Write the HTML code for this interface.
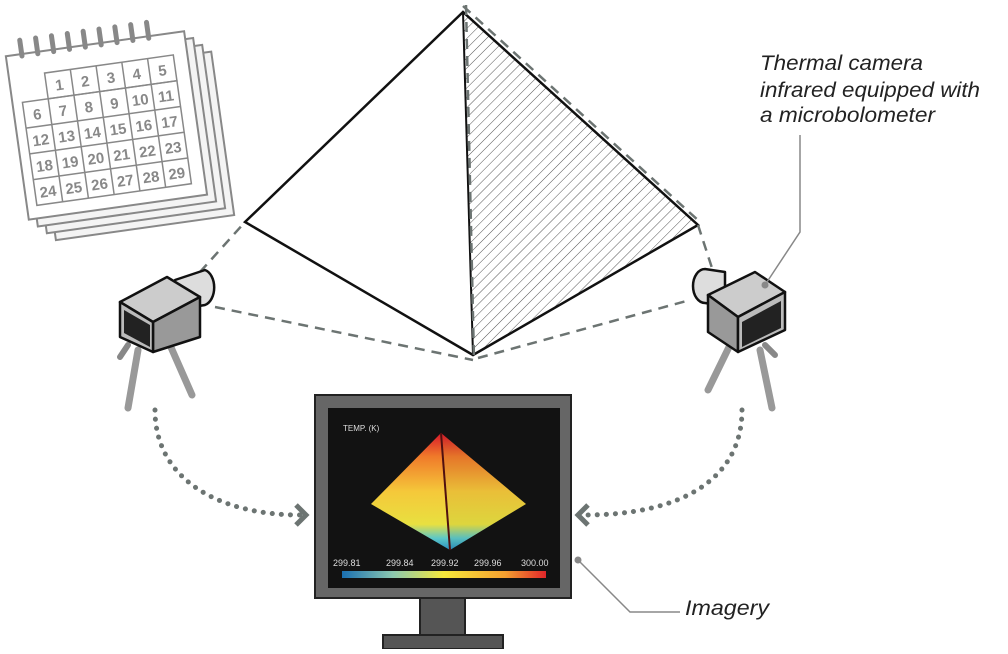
<!DOCTYPE html>
<html><head><meta charset="utf-8"><style>
body{margin:0;width:1008px;height:649px;background:#fff;overflow:hidden;font-family:"Liberation Sans",sans-serif}
</style></head><body>
<svg width="1008" height="649" viewBox="0 0 1008 649" xmlns="http://www.w3.org/2000/svg">
<defs>
<pattern id="h" width="7" height="7" patternUnits="userSpaceOnUse" patternTransform="rotate(45)"><line x1="0" y1="0" x2="0" y2="7" stroke="#555" stroke-width="1"/></pattern>
<linearGradient id="cb" x1="0" x2="1"><stop offset="0" stop-color="#1a6fb0"/><stop offset="0.25" stop-color="#8cc9b0"/><stop offset="0.5" stop-color="#f5e83a"/><stop offset="0.8" stop-color="#f5a030"/><stop offset="1" stop-color="#e0262a"/></linearGradient>
<linearGradient id="pl" x1="0" y1="0" x2="0" y2="1"><stop offset="0" stop-color="#d8182a"/><stop offset="0.2" stop-color="#f07a2a"/><stop offset="0.5" stop-color="#f5c83a"/><stop offset="0.78" stop-color="#e8e040"/><stop offset="0.9" stop-color="#5cc8c8"/><stop offset="1" stop-color="#2a8ec0"/></linearGradient>
</defs>
<!-- calendar -->
<g transform="translate(4,6) rotate(-8 110 130)" stroke="#888" stroke-width="2" fill="#fff">
<rect x="38" y="60" width="180" height="165" fill="#f4f4f4"/>
<rect x="30" y="52" width="180" height="165" fill="#f4f4f4"/>
<rect x="22" y="44" width="180" height="165" fill="#f4f4f4"/>
<rect x="14" y="36" width="180" height="165"/>
</g>
<g transform="translate(4,6) rotate(-8 110 130)" font-size="15" font-weight="bold" fill="#888" text-anchor="middle">
<g stroke="#888" stroke-width="1.5" fill="none">
<rect x="50" y="58" width="130" height="26"/>
<rect x="24" y="84" width="156" height="104"/>
<path d="M76 58V188M102 58V188M128 58V188M154 58V188M50 84V188M24 110H180M24 136H180M24 162H180"/>
</g>
<g stroke="#888" stroke-width="5" stroke-linecap="round"><path d="M30 22v16M46 22v16M62 22v16M78 22v16M94 22v16M110 22v16M126 22v16M142 22v16M158 22v16"/></g>
<text x="63" y="77">1</text><text x="89" y="77">2</text><text x="115" y="77">3</text><text x="141" y="77">4</text><text x="167" y="77">5</text>
<text x="37" y="103">6</text><text x="63" y="103">7</text><text x="89" y="103">8</text><text x="115" y="103">9</text><text x="141" y="103">10</text><text x="167" y="103">11</text>
<text x="37" y="129">12</text><text x="63" y="129">13</text><text x="89" y="129">14</text><text x="115" y="129">15</text><text x="141" y="129">16</text><text x="167" y="129">17</text>
<text x="37" y="155">18</text><text x="63" y="155">19</text><text x="89" y="155">20</text><text x="115" y="155">21</text><text x="141" y="155">22</text><text x="167" y="155">23</text>
<text x="37" y="181">24</text><text x="63" y="181">25</text><text x="89" y="181">26</text><text x="115" y="181">27</text><text x="141" y="181">28</text><text x="167" y="181">29</text>
</g>
<!-- pyramid -->
<polygon points="463,12 698,225 473,355" fill="url(#h)"/>
<polygon points="463,12 245,222 473,355 698,225" fill="none" stroke="#111" stroke-width="2.5"/>
<line x1="463" y1="12" x2="473" y2="355" stroke="#111" stroke-width="2"/>
<g stroke="#6c7472" stroke-width="2.5" stroke-dasharray="10 7" fill="none">
<line x1="466" y1="5" x2="474" y2="360"/>
<line x1="463" y1="6" x2="700" y2="222"/>
<line x1="200" y1="272" x2="245" y2="222"/>
<line x1="215" y1="307" x2="473" y2="360"/>
<line x1="698" y1="225" x2="712" y2="268"/>
<line x1="478" y1="358" x2="690" y2="300"/>
</g>
<!-- left camera -->
<g stroke="#111" stroke-width="2.5" stroke-linejoin="round">
<path d="M128 345l-8 12" stroke="#888" stroke-width="6" stroke-linecap="round"/>
<path d="M138 350l-10 58M170 345l22 50" stroke="#999" stroke-width="7" stroke-linecap="round"/>
<path d="M175 280l30 -10a12 18 0 0 1 0 35l-30 5z" fill="#ddd"/>
<polygon points="120,302 167,277 200,297 153,322" fill="#ccc"/>
<polygon points="153,322 200,297 200,337 153,352" fill="#999"/>
<polygon points="120,302 153,322 153,352 120,337" fill="#bbb"/>
<polygon points="124,310 150,325 150,347 124,333" fill="#222" stroke="none"/>
</g>
<!-- right camera -->
<g stroke="#111" stroke-width="2.5" stroke-linejoin="round">
<path d="M765 345l10 10" stroke="#888" stroke-width="6" stroke-linecap="round"/>
<path d="M730 345l-22 45M760 350l12 58" stroke="#999" stroke-width="7" stroke-linecap="round"/>
<path d="M725 272l-20 -3a12 17 0 0 0 0 34l20 3z" fill="#ddd"/>
<polygon points="708,295 755,272 785,292 738,317" fill="#ccc"/>
<polygon points="708,295 738,317 738,352 708,332" fill="#999"/>
<polygon points="738,317 785,292 785,330 738,352" fill="#bbb"/>
<polygon points="742,322 781,301 781,328 742,347" fill="#222" stroke="none"/>
</g>
<!-- dotted arrows -->
<g stroke="#6c7472" stroke-width="5" stroke-dasharray="0.1 9" stroke-linecap="round" fill="none">
<path d="M155 410C155 480 220 515 300 515"/>
<path d="M742 410C742 480 680 515 585 515"/>
</g>
<path d="M296 505l10 10-10 10" stroke="#6c7472" stroke-width="5" fill="none"/>
<path d="M588 505l-10 10 10 10" stroke="#6c7472" stroke-width="5" fill="none"/>
<!-- monitor -->
<rect x="383" y="635" width="120" height="14" fill="#555" stroke="#222" stroke-width="2"/>
<rect x="420" y="597" width="45" height="38" fill="#555" stroke="#222" stroke-width="2"/>
<rect x="315" y="395" width="256" height="203" fill="#666" stroke="#222" stroke-width="2"/>
<rect x="328" y="408" width="232" height="180" fill="#121212"/>
<text x="343" y="431" font-size="8" fill="#ddd">TEMP. (K)</text>
<polygon points="441,433 371,504 450,550" fill="url(#pl)"/>
<polygon points="441,433 526,504 450,550" fill="url(#pl)" opacity="0.95"/>
<line x1="441" y1="433" x2="450" y2="550" stroke="#501010" stroke-width="2"/>
<g font-size="9" fill="#ddd"><text x="333" y="566">299.81</text><text x="386" y="566">299.84</text><text x="431" y="566">299.92</text><text x="474" y="566">299.96</text><text x="521" y="566">300.00</text></g>
<rect x="342" y="571" width="204" height="7" fill="url(#cb)"/>
<!-- annotations -->
<g stroke="#888" stroke-width="1.5" fill="none"><path d="M765 285L800 232V135"/><path d="M578 560L630 612H680"/></g>
<circle cx="765" cy="285" r="3.5" fill="#888"/><circle cx="578" cy="560" r="3.5" fill="#888"/>
<g font-style="italic" font-size="21" fill="#222">
<text x="760" y="70" textLength="163" lengthAdjust="spacingAndGlyphs">Thermal camera</text>
<text x="760" y="97" textLength="220" lengthAdjust="spacingAndGlyphs">infrared equipped with</text>
<text x="760" y="122" textLength="175" lengthAdjust="spacingAndGlyphs">a microbolometer</text>
<text x="685" y="615" textLength="84" lengthAdjust="spacingAndGlyphs">Imagery</text>
</g>
</svg>
</body></html>
